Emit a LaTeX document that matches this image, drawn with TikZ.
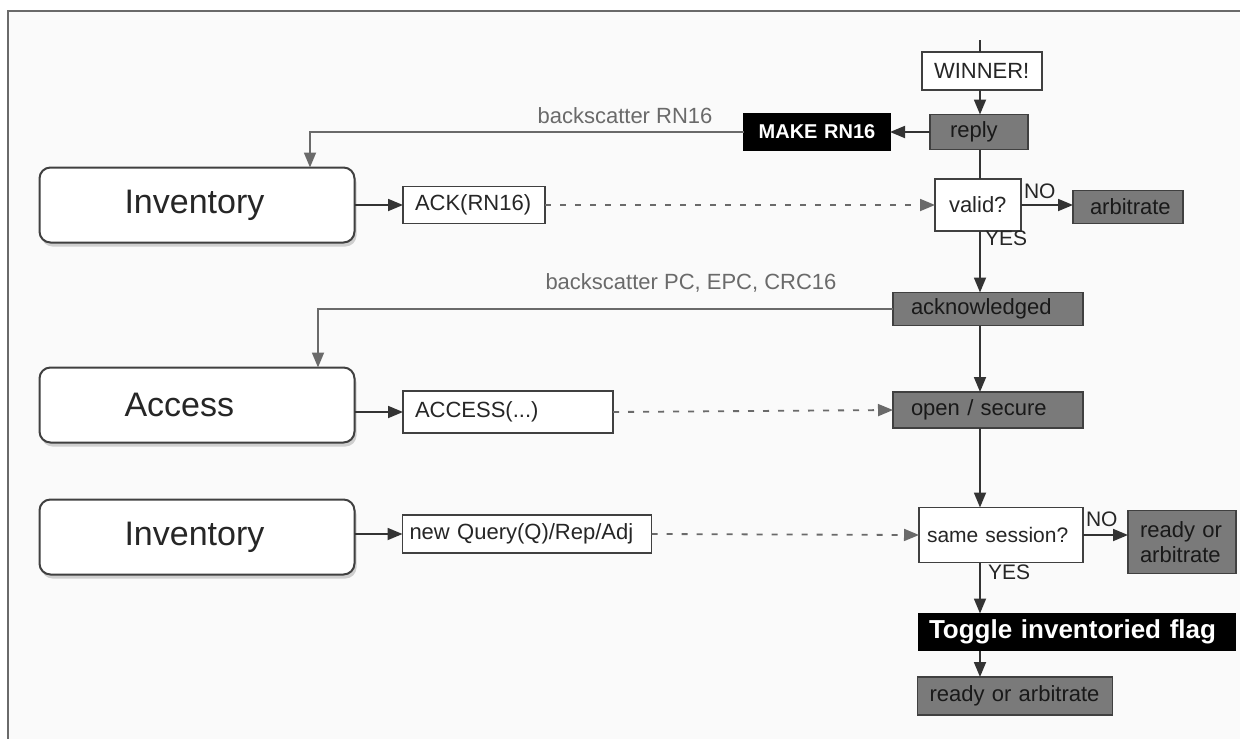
\documentclass[tikz,border=0pt]{standalone}
\usepackage{fontspec}
\setmainfont{Liberation Sans}
\usetikzlibrary{arrows.meta,shadows}

\definecolor{bgc}{HTML}{FAFAFA}
\definecolor{framec}{HTML}{6A6A6A}
\definecolor{linec}{HTML}{333333}
\definecolor{boxc}{HTML}{404040}
\definecolor{statec}{HTML}{7A7A7A}
\definecolor{labelc}{HTML}{6A6A6A}
\definecolor{dashc}{HTML}{6A6A6A}

\begin{document}
\begin{tikzpicture}[x=1pt,y=-1pt,
  every node/.style={inner sep=0pt, outer sep=0pt, align=left},
  tip/.style={-{Triangle[length=15pt,width=12pt]}},
  bigbox/.style={draw=boxc, line width=2pt, fill=white, rounded corners=11pt,
    minimum width=315pt, minimum height=75pt, inner xsep=85pt, text width=145pt,
    font=\fontsize{34}{38}\selectfont, text=black!85,
    drop shadow={shadow xshift=2pt, shadow yshift=-4pt, opacity=0.35, fill=gray}},
  cmdbox/.style={draw=boxc, line width=1.8pt, fill=white, text=black!85,
    inner xsep=12pt, font=\fontsize{22}{25}\selectfont},
  statebox/.style={draw=boxc, line width=1.8pt, fill=statec, text=black!90,
    inner xsep=18pt, font=\fontsize{22}{25}\selectfont},
  darkbox/.style={draw=black, line width=1.8pt, fill=black, text=white,
    inner xsep=10pt, font=\bfseries\fontsize{22}{25}\selectfont},
  flow/.style={draw=linec, line width=1.8pt, tip},
  plainline/.style={draw=linec, line width=1.8pt},
  feedback/.style={draw=dashc, line width=1.8pt, tip},
  msg/.style={draw=dashc, line width=1.8pt, dash pattern=on 6pt off 9pt, tip},
  lbl/.style={text=labelc, font=\fontsize{22}{25}\selectfont},
  yn/.style={text=black!85, font=\fontsize{21}{24}\selectfont}
]
\useasboundingbox (0,0) rectangle (1240,739);
\fill[white] (0,0) rectangle (1240,739);
\fill[bgc] (8,11) rectangle (1240,739);
\draw[framec, line width=2.2pt] (8,739) -- (8,11) -- (1240,11);

% tag state machine column
\coordinate (axis) at (980,0);
\coordinate (top) at (980,40);
\node[cmdbox, text width=96pt, minimum height=38pt] (winner) at (982,71) {WINNER!};
\node[statebox, inner xsep=20pt, text width=58pt, minimum height=35pt] (reply) at (979,132) {reply};
\node[darkbox, inner xsep=4pt, text width=138pt, minimum height=36pt, align=center,
      font=\bfseries\fontsize{20}{23}\selectfont] (make) at (817,132) {\mbox{MAKE RN16}};
\node[cmdbox, inner xsep=14pt, text width=58pt, minimum height=52pt] (valid) at (978,205) {valid?};
\node[statebox, inner xsep=17pt, text width=76pt, minimum height=33pt] (arb) at (1128,207) {arbitrate};
\node[statebox, text width=154pt, minimum height=33pt] (acked) at (988,309) {acknowledged};
\node[statebox, text width=154pt, minimum height=36pt] (open) at (988,410) {open / secure};
\node[cmdbox, inner xsep=8pt, text width=148pt, minimum height=55pt,
      font=\fontsize{21}{24}\selectfont] (same) at (1001,535) {\mbox{same session?}};
\node[statebox, inner xsep=12pt, text width=84pt, minimum height=63pt] (rdy1) at (1182,542) {ready or\\arbitrate};
\node[darkbox, text width=296pt, minimum height=37pt, font=\bfseries\fontsize{26}{29}\selectfont] (toggle) at (1077,632) {\mbox{Toggle inventoried flag}};
\node[statebox, inner xsep=12pt, text width=171pt, minimum height=38pt] (rdy2) at (1015,696) {\mbox{ready or arbitrate}};

% reader side
\node[bigbox] (inv1) at (197,205) {Inventory};
\node[bigbox] (acc) at (197,405) {Access};
\node[bigbox] (inv2) at (197,537) {Inventory};
\node[cmdbox, text width=118pt, minimum height=37pt] (ack) at (474,205) {ACK(RN16)};
\node[cmdbox, text width=186pt, minimum height=42pt] (accbox) at (508,412) {ACCESS(...)};
\node[cmdbox, text width=235pt, inner xsep=7pt, minimum height=38pt] (query) at (527,534) {\mbox{new Query(Q)/Rep/Adj}};

% connectors of the tag column
\draw[plainline] (top) -- (winner.north -| axis);
\draw[flow] (winner.south -| axis) -- (reply.north -| axis);
\draw[flow] (reply.west) -- (make.east);
\draw[plainline] (reply.south -| axis) -- (valid.north -| axis);
\draw[flow] (valid.east) -- (arb.west |- valid.east);
\draw[flow] (valid.south -| axis) -- (acked.north -| axis);
\draw[flow] (acked.south -| axis) -- (open.north -| axis);
\draw[flow] (open.south -| axis) -- (same.north -| axis);
\draw[flow] (same.east) -- (rdy1.west |- same.east);
\draw[flow] (same.south -| axis) -- (toggle.north -| axis);
\draw[flow] (toggle.south -| axis) -- (rdy2.north -| axis);
\node[yn, anchor=south west] (no1) at (1024,199) {NO};
\node[yn, anchor=north west] (yes1) at (985,231) {YES};
\node[yn, anchor=south west] (no2) at (1086,527) {NO};
\node[yn, anchor=north west] (yes2) at (988,565) {YES};

% backscatter replies
\draw[feedback] (make.west) -- (310,132) -- (inv1.north -| 310,0);
\node[lbl] (bs1) at (625,116) {backscatter RN16};
\draw[feedback] (acked.west) -- (318,309) -- (acc.north -| 318,0);
\node[lbl] (bs2) at (691,283) {backscatter PC, EPC, CRC16};

% reader commands
\draw[flow] (inv1.east) -- (ack.west);
\draw[msg] (ack.east) -- (valid.west);
\draw[flow] (acc.east |- accbox.west) -- (accbox.west);
\draw[msg] (accbox.east) -- (open.west);
\draw[flow] (inv2.east |- query.west) -- (query.west);
\draw[msg] (query.east) -- (same.west);
\end{tikzpicture}
\end{document}
